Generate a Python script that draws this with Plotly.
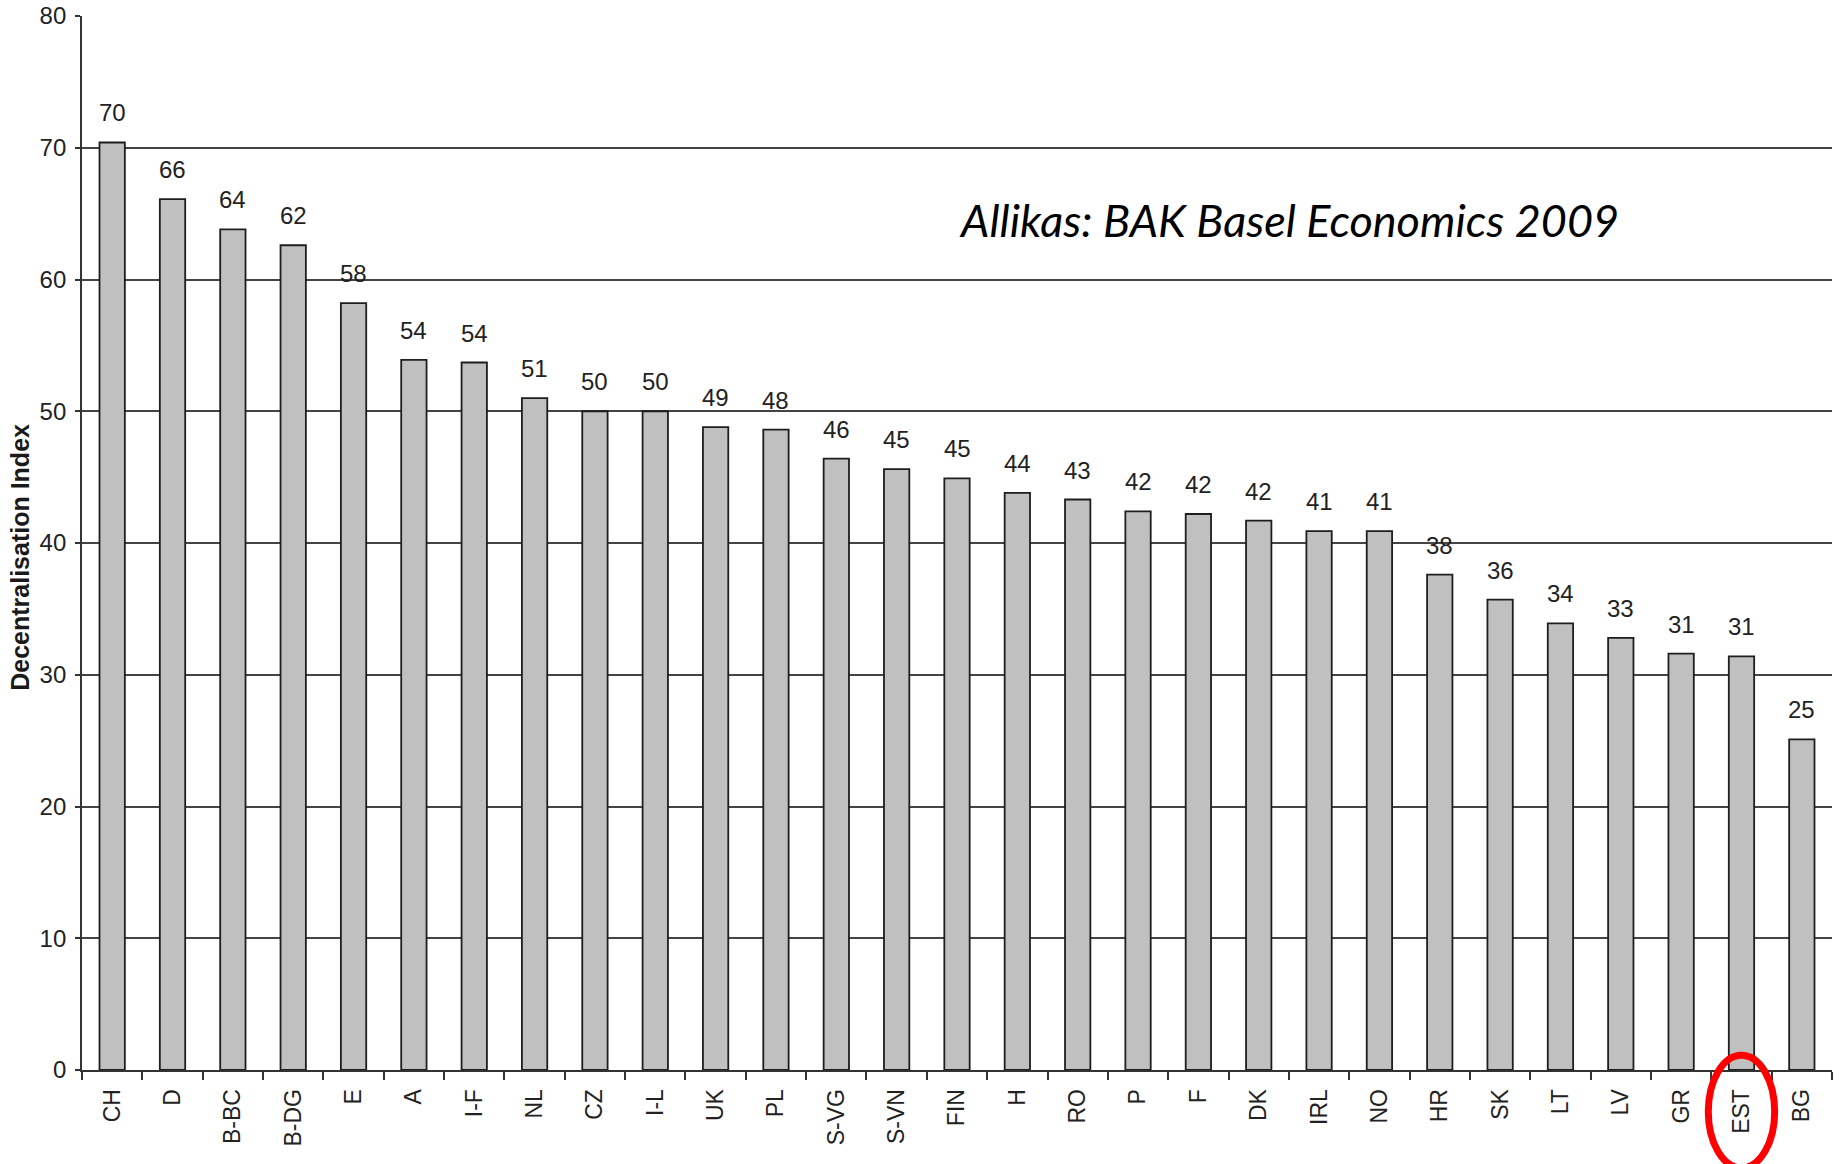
import plotly.graph_objects as go

countries = ["CH", "D", "B-BC", "B-DG", "E", "A", "I-F", "NL", "CZ", "I-L", "UK", "PL",
             "S-VG", "S-VN", "FIN", "H", "RO", "P", "F", "DK", "IRL", "NO", "HR", "SK",
             "LT", "LV", "GR", "EST", "BG"]
index_values = [70.4, 66.1, 63.8, 62.6, 58.2, 53.9, 53.7, 51.0, 50.0, 50.0, 48.8, 48.6,
                46.4, 45.6, 44.9, 43.8, 43.3, 42.4, 42.2, 41.7, 40.9, 40.9, 37.6, 35.7,
                33.9, 32.8, 31.6, 31.4, 25.1]
value_labels = ["70", "66", "64", "62", "58", "54", "54", "51", "50", "50", "49", "48",
                "46", "45", "45", "44", "43", "42", "42", "42", "41", "41", "38", "36",
                "34", "33", "31", "31", "25"]
y_ticks = [0, 10, 20, 30, 40, 50, 60, 70, 80]
highlight = "EST"
y_title = "Decentralisation Index"
source_text = "Allikas: BAK Basel Economics 2009"

narrow = "Liberation Sans Narrow, Arial Narrow, Liberation Sans"

fig = go.Figure()
fig.add_trace(go.Bar(
    x=countries, y=index_values,
    marker=dict(color="#c0c0c0", line=dict(color="#1e1e1e", width=1.8)),
    width=0.42, hoverinfo="skip"))

for c, v, t in zip(countries, index_values, value_labels):
    fig.add_annotation(x=c, y=v, text=t, showarrow=False, xref="x", yref="y",
                       yanchor="bottom", yshift=14,
                       font=dict(family=narrow, size=24, color="#222222"))

fig.add_annotation(x=0.5, y=0.806, xref="paper", yref="paper", xanchor="left",
                   yanchor="middle", showarrow=False, text=f"<i>{source_text}</i>",
                   font=dict(family="Lato", size=45, color="#000000"))

fig.add_annotation(x=-0.0354, y=0.486, xref="paper", yref="paper", xanchor="center",
                   yanchor="middle", showarrow=False, textangle=-90,
                   text=f"<b>{y_title}</b>",
                   font=dict(family="Liberation Sans", size=25, color="#1a1a1a"))

hi = countries.index(highlight)
fig.add_shape(type="circle", xref="x", yref="paper",
              x0=hi - 0.55, x1=hi + 0.55, y0=-0.093, y1=0.014,
              line=dict(color="#ff0000", width=7))

fig.update_layout(
    width=1841, height=1164,
    margin=dict(l=82, r=9, t=16, b=94),
    plot_bgcolor="white", paper_bgcolor="white",
    showlegend=False,
    font=dict(family="Liberation Sans", color="#222222"),
)
fig.update_xaxes(
    type="category", showgrid=False, automargin=False,
    showline=True, linecolor="#333333", linewidth=1.8,
    ticks="outside", tickson="boundaries", ticklen=8, tickwidth=1.6, tickcolor="#333333",
    tickangle=-90, tickfont=dict(size=23, color="#222222"), ticklabelstandoff=8,
)
fig.update_yaxes(
    range=[0, 80], tickvals=y_ticks, automargin=False,
    showgrid=True, gridcolor="#444444", gridwidth=1.5,
    showline=True, linecolor="#333333", linewidth=1.8,
    ticks="outside", ticklen=5, tickwidth=1.6, tickcolor="#333333",
    tickfont=dict(family=narrow, size=24, color="#222222"), ticklabelstandoff=4,
    zeroline=False,
)

fig.write_html("out.html", config={"displayModeBar": False},
               post_script="document.body.style.margin='0';document.body.style.overflow='hidden';")
